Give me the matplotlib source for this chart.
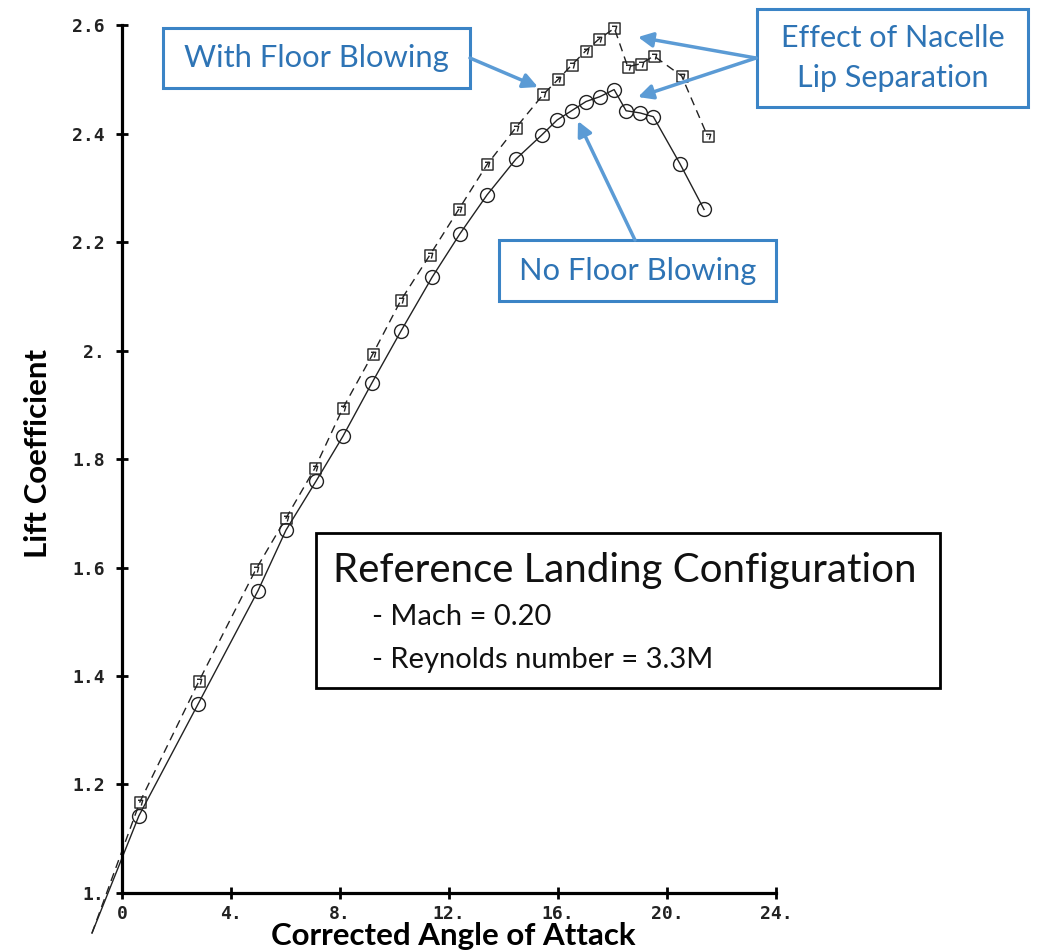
import numpy as np
import matplotlib
matplotlib.use("Agg")
import matplotlib.pyplot as plt
from matplotlib.patches import Rectangle
from matplotlib.path import Path

# Lift curves (first point has no marker, line runs below the axis)
alpha_nfb = [-1.1, 0.62, 2.79, 4.99, 6.02, 7.12, 8.11, 9.17, 10.24, 11.38, 12.40, 13.40,
             14.46, 15.40, 15.97, 16.50, 17.03, 17.54, 18.06, 18.50, 19.01, 19.50, 20.48, 21.36]
cl_nfb = [0.926, 1.142, 1.348, 1.557, 1.669, 1.759, 1.842, 1.940, 2.036, 2.135, 2.215, 2.287,
          2.353, 2.397, 2.425, 2.442, 2.459, 2.468, 2.481, 2.442, 2.438, 2.431, 2.344, 2.260]

alpha_fb = [-1.1, 0.66, 2.83, 4.92, 6.02, 7.08, 8.11, 9.21, 10.24, 11.30, 12.37, 13.40,
            14.46, 15.46, 16.01, 16.50, 17.03, 17.50, 18.07, 18.56, 19.06, 19.52, 20.54, 21.49]
cl_fb = [0.926, 1.168, 1.391, 1.597, 1.691, 1.783, 1.894, 1.994, 2.093, 2.176, 2.261, 2.343,
         2.411, 2.472, 2.500, 2.526, 2.553, 2.574, 2.594, 2.523, 2.529, 2.543, 2.506, 2.395]

xticks = [0, 4, 8, 12, 16, 20, 24]
xticklabels = ["0", "4.", "8.", "12.", "16.", "20.", "24."]
yticks = [1.0, 1.2, 1.4, 1.6, 1.8, 2.0, 2.2, 2.4, 2.6]
yticklabels = ["1.", "1.2", "1.4", "1.6", "1.8", "2.", "2.2", "2.4", "2.6"]

txt_blue = "#2e74b5"
box_blue = "#3b84c6"
arrow_blue = "#5b9bd5"
lab_font = "Lato"

# square marker with a little "7" inside, like the plotter symbol
sq_verts = [(-1, -1), (1, -1), (1, 1), (-1, 1), (-1, -1),
            (-0.45, 0.4), (0.4, 0.4), (0.15, -0.55)]
sq_codes = [Path.MOVETO, Path.LINETO, Path.LINETO, Path.LINETO, Path.CLOSEPOLY,
            Path.MOVETO, Path.LINETO, Path.LINETO]
sq_marker = Path(sq_verts, sq_codes)

fig = plt.figure(figsize=(10.38, 9.52), dpi=100)
ax = fig.add_axes([0.0781, 0.005, 0.6826, 0.9801])
ax.set_xlim(-1.5, 24.5)
ax.set_ylim(0.9, 2.62)

ax.plot(alpha_nfb, cl_nfb, color="#222222", lw=1.0, marker="o", ms=10,
        mfc="none", mec="#222222", mew=1.0, markevery=slice(1, None))
ax.plot(alpha_fb, cl_fb, color="#222222", lw=1.0, ls=(0, (6, 4)), marker=sq_marker, ms=8,
        mfc="none", mec="#222222", mew=1.0, markevery=slice(1, None))

for s in ["top", "right"]:
    ax.spines[s].set_visible(False)
ax.spines["left"].set_position(("data", 0))
ax.spines["bottom"].set_position(("data", 1.0))
ax.spines["left"].set_bounds(1.0, 2.6)
ax.spines["bottom"].set_bounds(0, 24)
ax.spines["left"].set_linewidth(2.3)
ax.spines["bottom"].set_linewidth(2.3)

ax.set_xticks(xticks)
ax.set_xticklabels(xticklabels)
ax.set_yticks(yticks)
ax.set_yticklabels(yticklabels)
ax.tick_params(axis="both", direction="inout", length=9, width=2)
ax.tick_params(axis="y", pad=8)
ax.tick_params(axis="x", pad=4)
for lab in ax.get_xticklabels() + ax.get_yticklabels():
    lab.set_fontfamily("DejaVu Sans Mono")
    lab.set_fontweight("bold")
    lab.set_fontsize(13)
    lab.set_color("#222222")

fig.text(453 / 1038, 1 - 936 / 952, "Corrected Angle of Attack", family=lab_font,
         weight="bold", fontsize=22.5, ha="center", va="center")
fig.text(38 / 1038, 1 - 453 / 952, "Lift Coefficient", family=lab_font,
         weight="bold", fontsize=22.5, ha="center", va="center", rotation=90)

# pixel helpers for the call-out boxes (x: 27.25 px/deg, y: 542.5 px/unit)
def dx(px):
    return (px - 122) / 27.25

def dy(py):
    return 1 + (893 - py) / 542.5

def callout(x0, y0, x1, y1, lines, size):
    ax.add_patch(Rectangle((dx(x0), dy(y1)), dx(x1) - dx(x0), dy(y0) - dy(y1),
                           fill=False, ec=box_blue, lw=2.2, clip_on=False, zorder=4))
    ax.text(dx((x0 + x1) / 2), dy((y0 + y1) / 2), "\n".join(lines), color=txt_blue,
            family=lab_font, fontsize=size, ha="center", va="center",
            linespacing=1.5, clip_on=False, zorder=5)

def arrow(tail, head):
    ax.annotate("", xy=(dx(head[0]), dy(head[1])), xytext=(dx(tail[0]), dy(tail[1])),
                arrowprops=dict(arrowstyle="-|>", color=arrow_blue, lw=2.5,
                                mutation_scale=22, shrinkA=0, shrinkB=0),
                annotation_clip=False, zorder=4)

callout(163, 28, 470, 88, ["With Floor Blowing"], 22.3)
callout(757, 9, 1028, 107, ["Effect of Nacelle", "Lip Separation"], 22)
callout(499, 240, 776, 301, ["No Floor Blowing"], 22.2)

arrow((470, 58), (538, 87))
arrow((756, 58), (638, 37))
arrow((756, 58), (638, 97))
arrow((635, 240), (578, 121))

# reference configuration box
ax.add_patch(Rectangle((dx(316), dy(688)), dx(940) - dx(316), dy(533) - dy(688),
                       fill=False, ec="black", lw=2.0, clip_on=False, zorder=4))
ax.text(dx(333), dy(570), "Reference Landing Configuration", family=lab_font,
        fontsize=29, ha="left", va="center", color="#111111")
ax.text(dx(372), dy(617), "- Mach = 0.20", family=lab_font,
        fontsize=21, ha="left", va="center", color="#111111")
ax.text(dx(372), dy(660), "- Reynolds number = 3.3M", family=lab_font,
        fontsize=21, ha="left", va="center", color="#111111")

fig.savefig("out.png", dpi=100, facecolor="white")
